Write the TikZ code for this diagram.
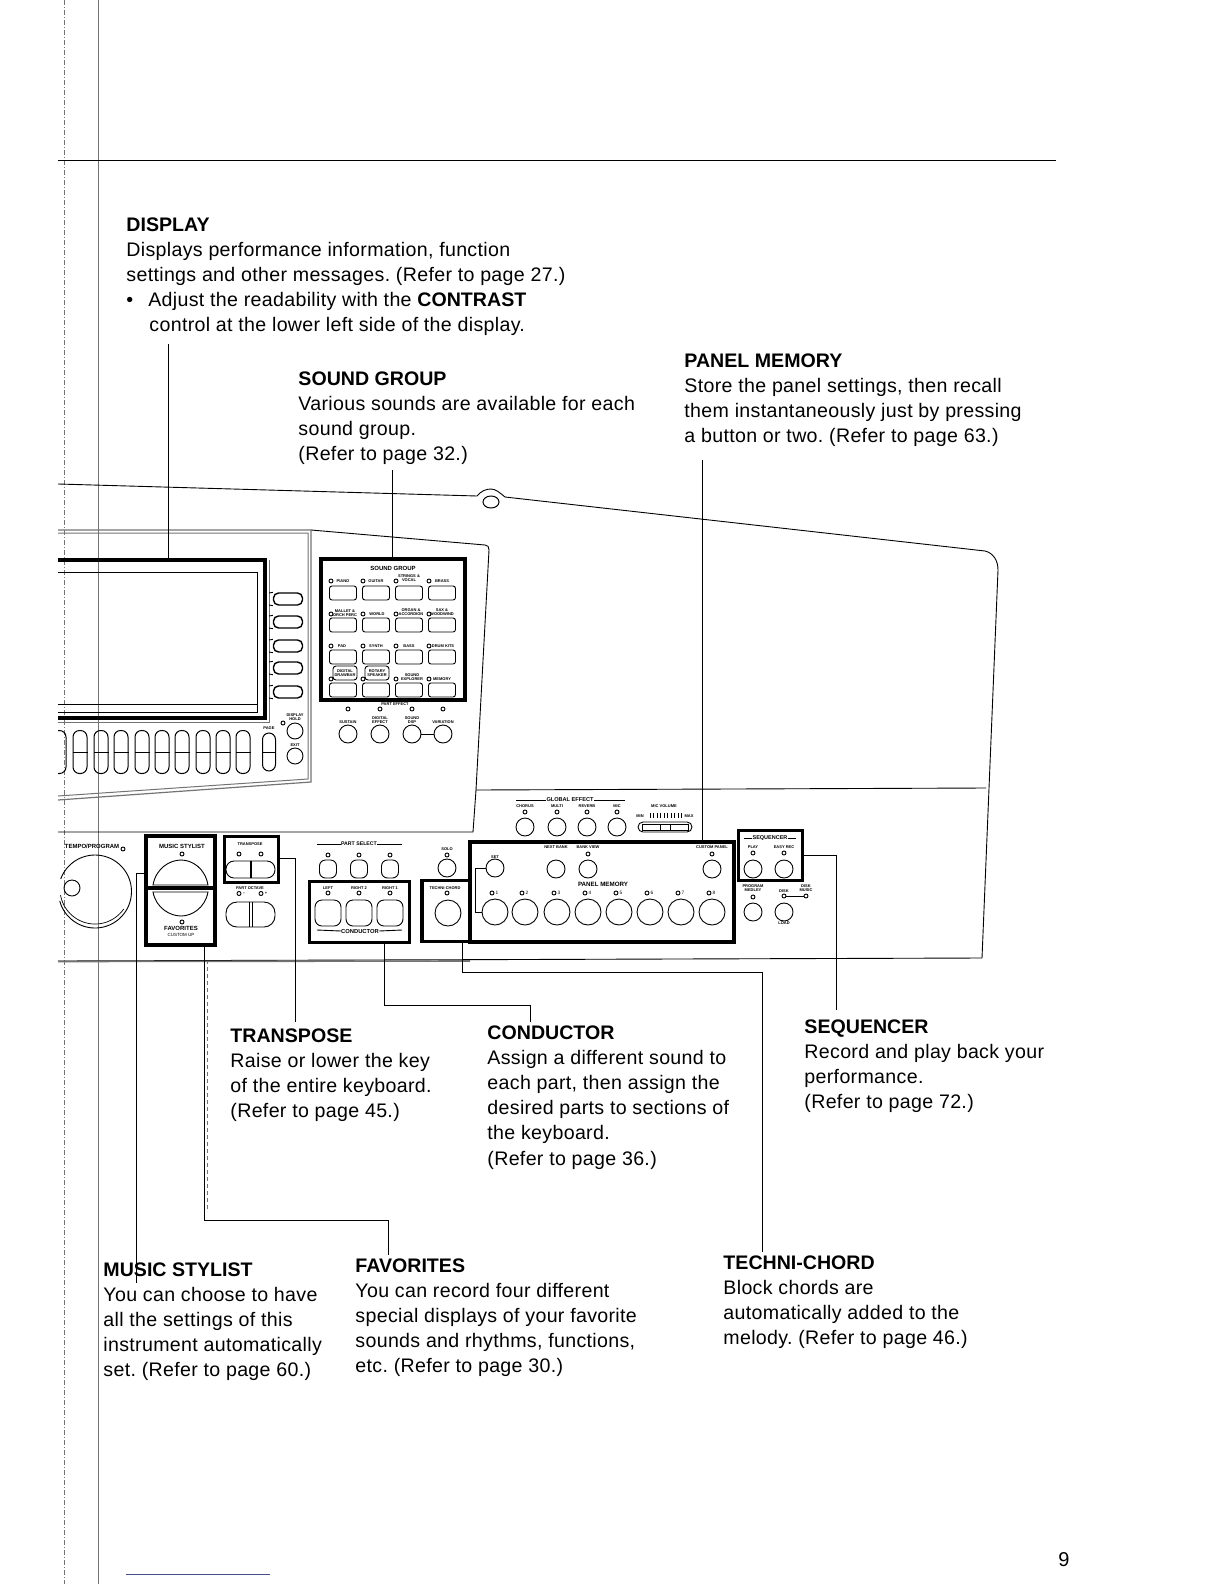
\documentclass[tikz,border=0pt]{standalone}
\usepackage{fontspec}
\setmainfont{Liberation Sans}
\newfontfamily\callfont[LetterSpace=1.65]{Liberation Sans}
\newcommand{\headtext}[1]{{\normalfont\bfseries #1}}
\usepackage{tikz}
\usetikzlibrary{positioning,calc}
\definecolor{frameGray}{gray}{0.45}
\definecolor{footBlue}{RGB}{70,80,140}
\tikzset{
  calltext/.style={anchor=north west, inner sep=0pt, align=left, font=\fontsize{19.6}{25.2}\selectfont\callfont\frenchspacing},
  hibox/.style={draw, line width=3.3pt, inner sep=0pt},
  leader/.style={line width=1pt},
  lbl/.style={inner sep=0pt, align=center, font=\fontsize{4}{4.4}\selectfont\bfseries},
  blbl/.style={inner sep=0pt, align=center, font=\fontsize{6}{6.4}\selectfont\bfseries},
  led/.style={draw, circle, inner sep=0pt, minimum size=4pt, line width=0.9pt},
  btn/.style={draw, circle, inner sep=0pt, minimum size=18pt, line width=0.9pt},
  bigbtn/.style={btn, minimum size=26pt},
  keybtn/.style={draw, rounded corners=2.5pt, inner sep=0pt, minimum width=27pt, minimum height=14pt, line width=0.9pt},
  squarebtn/.style={draw, rounded corners=6pt, inner sep=0pt, line width=0.9pt}
}
\begin{document}
\begin{tikzpicture}[x=1pt, y=-1pt, line width=0.9pt]
  \useasboundingbox (0,0) rectangle (1224,1584);
  % Page rules
  \draw[frameGray, line width=0.7pt] (98,0) -- (98,1584);
  \draw[frameGray, line width=0.5pt, dash pattern=on 5pt off 2pt on 1pt off 2pt] (64,0) -- (64,1584);
  \draw[line width=0.9pt] (58,160) -- (1056,160);
  \draw[footBlue, line width=0.8pt] (126,1574) -- (270,1574);
  \draw[frameGray, line width=0.5pt, dash pattern=on 4pt off 3pt] (207,960) -- (207,1212);
  \node[inner sep=0pt, font=\fontsize{20}{24}\selectfont] (pageNo) at (1064,1560) {9};

  % Callout texts
  \node[calltext] (dispText) at (126,217) {\headtext{DISPLAY}\\Displays performance information, function\\settings and other messages. (Refer to page 27.)\\\textbullet\hspace{15pt}Adjust the readability with the \headtext{CONTRAST}\\\hspace{23pt}control at the lower left side of the display.};
  \node[calltext] (soundText) at (298,371) {\headtext{SOUND GROUP}\\Various sounds are available for each\\sound group.\\(Refer to page 32.)};
  \node[calltext] (memText) at (684,353) {\headtext{PANEL MEMORY}\\Store the panel settings, then recall\\them instantaneously just by pressing\\a button or two. (Refer to page 63.)};
  \node[calltext] (transText) at (230,1028) {\headtext{TRANSPOSE}\\Raise or lower the key\\of the entire keyboard.\\(Refer to page 45.)};
  \node[calltext] (condText) at (487,1025) {\headtext{CONDUCTOR}\\Assign a different sound to\\each part, then assign the\\desired parts to sections of\\the keyboard.\\(Refer to page 36.)};
  \node[calltext] (seqText) at (804,1019) {\headtext{SEQUENCER}\\Record and play back your\\performance.\\(Refer to page 72.)};
  \node[calltext] (styleText) at (103,1262) {\headtext{MUSIC STYLIST}\\You can choose to have\\all the settings of this\\instrument automatically\\set. (Refer to page 60.)};
  \node[calltext] (favText) at (355,1258) {\headtext{FAVORITES}\\You can record four different\\special displays of your favorite\\sounds and rhythms, functions,\\etc. (Refer to page 30.)};
  \node[calltext] (techText) at (723,1255) {\headtext{TECHNI-CHORD}\\Block chords are\\automatically added to the\\melody. (Refer to page 46.)};

  % Panel outline
  \draw (58,484) -- (477,496) .. controls (481,491) and (486,489) .. (491,489) .. controls (496,489) and (500,493) .. (505,497) -- (985,551) .. controls (993,553) and (998,560) .. (998,570) -- (982,958);
  \draw[line width=1pt] (491,502) ellipse [x radius=8, y radius=6];
  \draw (58,961) -- (982,958);
  \draw[frameGray, line width=1.6pt] (58,961.5) -- (470,961);
  \draw (58,832) -- (473,832) -- (476,790) -- (986,788);
  \draw (476,790) -- (489,550) .. controls (489,547) and (488,545) .. (485,545) -- (311,530);
  % Display bezel
  \draw[frameGray, line width=1.2pt] (58,530) -- (311,530) -- (311,782) -- (58,800);
  \draw[frameGray, line width=1pt] (58,533) -- (308,533) -- (308,779) -- (58,796);
  \draw[frameGray, line width=1pt] (58,722) -- (269,722) -- (269,560);
  \draw (58,572) -- (257,572) -- (257,712) -- (58,712);
  \draw (58,704) -- (257,704);
  \draw[line width=3.3pt] (58,560) -- (265,560) -- (265,718) -- (58,718);
  \coordinate (dispTop) at (168,560);
  \foreach \i/\y in {a/599,b/622,c/646,d/668,e/692} {
    \node[draw, rounded corners=5pt, minimum width=29pt, minimum height=12pt, inner sep=0pt, line width=1.4pt] (side\i) at (288,\y) {};
    \draw (269,\y-6) -- (side\i.north west);
    \draw (269,\y+6) -- (side\i.south west);
  }
  % Function keys under the display
  \foreach \i/\x in {a/80,b/101,c/121,d/142,e/162,f/182,g/203,h/223,j/243} {
    \node[draw, rounded corners=6.5pt, minimum width=14pt, minimum height=43pt, inner sep=0pt, line width=1pt] (fkey\i) at (\x,752) {};
    \draw (fkey\i.west) -- (fkey\i.east);
  }
  \begin{scope}
    \clip (58,725) rectangle (75,780);
    \node[draw, rounded corners=6.5pt, minimum width=14pt, minimum height=43pt, inner sep=0pt, line width=1pt] (fkeyz) at (59,752) {};
  \end{scope}
  \node[draw, rounded corners=6.5pt, minimum width=13pt, minimum height=38pt, inner sep=0pt, line width=1pt] (pageKey) at (269,752) {};
  \draw (pageKey.west) -- (pageKey.east);
  \node[lbl] (pageLbl) at (269,728.5) {PAGE};
  \node[lbl] (holdLbl) at (295,717) {DISPLAY\\HOLD};
  \node[led] (holdLed) at (283,723) {};
  \node[btn, minimum size=16pt] (holdBtn) at (295,731) {};
  \node[lbl] (exitLbl) at (295,745) {EXIT};
  \node[btn, minimum size=16pt] (exitBtn) at (295,756) {};

  % Sound group
  \node[hibox, minimum width=144pt, minimum height=141pt] (soundBox) at (393,629.5) {};
  \node[blbl] (soundLbl) at (393,568) {SOUND GROUP};
  \foreach \r/\y in {a/593,b/625,c/657,d/690}
    \foreach \c/\x in {a/343,b/376,c/409,d/442}
      \node[keybtn] (key\r\c) at (\x,\y) {};
  \foreach \r/\y in {a/581,b/614,c/646,d/679}
    \foreach \c/\x in {a/331,b/363,c/396,d/429}
      \node[led] (keyled\r\c) at (\x,\y) {};
  \foreach \n/\x/\y/\t in {a/343/581/PIANO,b/376/581/GUITAR,c/409/578/{STRINGS \&\\VOCAL},d/442/581/BRASS,
    e/345/613/{MALLET \&\\ORCH PERC},f/377/614/WORLD,g/411/612/{ORGAN \&\\ACCORDION},h/442/612/{SAX \&\\WOODWIND},
    i/342/646/PAD,j/376/646/SYNTH,k/409/646/BASS,l/443/646/DRUM KITS,m/412/677/{SOUND\\EXPLORER},n/442/679/MEMORY}
    \node[lbl] (sgLbl\n) at (\x,\y) {\t};
  \node[draw, lbl, rounded corners=3pt, minimum width=24pt, minimum height=14pt] (drawbar) at (345,673) {DIGITAL\\DRAWBAR};
  \node[draw, lbl, rounded corners=3pt, minimum width=24pt, minimum height=14pt] (rotary) at (377,673) {ROTARY\\SPEAKER};

  % Part effect
  \node[lbl] (fxLbl) at (395,704) {PART EFFECT};
  \foreach \i/\x/\y/\t in {a/348/722/SUSTAIN,b/380/720/{DIGITAL\\EFFECT},c/412/720/{SOUND\\DSP},d/443/722/VARIATION} {
    \node[lbl] (fxTxt\i) at (\x,\y) {\t};
    \node[led] (fxLed\i) at (\x,709) {};
    \node[btn] (fx\i) at (\x,734) {};
  }
  \draw (fxc) -- (fxd);

  % Tempo dial
  \node[blbl] (tempoLbl) at (92,846) {TEMPO/PROGRAM};
  \node[led] (tempoLed) at (123,849) {};
  \node[btn, minimum size=16pt] (dialKnob) at (72,888) {};
  \begin{scope}
    \clip (58,840) rectangle (140,940);
    \draw[shift={(95,891.5)}, line width=0.9pt] plot[domain=-160:165, samples=80] (\x:36.5);
    \draw[shift={(95,889)}, line width=0.7pt] plot[domain=35:170, samples=50] (\x:35);
  \end{scope}

  % Music stylist and favorites
  \node[hibox, minimum width=69pt, minimum height=52pt] (styleBox) at (180.5,862) {};
  \node[hibox, minimum width=69pt, minimum height=57pt] (favBox) at (180.5,916.5) {};
  \node[blbl] (styleLbl) at (182,846) {MUSIC STYLIST};
  \node[led] (styleLed) at (182,854) {};
  \draw (153,885) .. controls (156,868) and (170,860) .. (181,860) .. controls (192,860) and (205,868) .. (208,885) -- cycle;
  \draw (153,892) .. controls (156,908) and (170,916) .. (181,916) .. controls (192,916) and (205,908) .. (208,892) -- cycle;
  \node[led] (favLed) at (182,922) {};
  \node[blbl] (favLbl) at (181,928.5) {FAVORITES};
  \node[lbl, font=\fontsize{4.5}{5}\selectfont] (customLbl) at (181,934.5) {CUSTOM UP};

  % Transpose and part octave
  \node[hibox, minimum width=54pt, minimum height=46pt] (transBox) at (251.5,859.5) {};
  \node[lbl] (transLbl) at (250,844) {TRANSPOSE};
  \foreach \i/\x in {a/239,b/261} \node[led] (transLed\i) at (\x,854) {};
  \node[draw, rounded corners=8pt, minimum width=49pt, minimum height=17pt, inner sep=0pt] (transKey) at (250.5,869.5) {};
  \draw[line width=2pt] (transKey.north) -- (transKey.south);
  \node[lbl] (octLbl) at (250,888) {PART OCTAVE};
  \node[led] (octLeda) at (239,893.5) {};
  \node[led] (octLedb) at (261,893.5) {};
  \node[lbl, right=1pt of octLeda] (octMinus) {--};
  \node[lbl, right=1pt of octLedb] (octPlus) {+};
  \node[draw, rounded corners=11pt, minimum width=49pt, minimum height=25pt, inner sep=0pt] (octKey) at (250.5,914.5) {};
  \draw (249.5,902) -- (249.5,927);
  \draw (252,902) -- (252,927);

  % Part select and conductor
  \node[blbl, font=\fontsize{5.2}{5.6}\selectfont\bfseries] (partLbl) at (359,844) {PART SELECT};
  \draw (317,844) -- (partLbl.west);
  \draw (partLbl.east) -- (402,844);
  \foreach \i/\x in {a/328,b/359,c/390} {
    \node[led] (partLed\i) at (\x,855) {};
    \node[squarebtn, minimum width=17pt, minimum height=18pt] (part\i) at (\x,869) {};
  }
  \node[hibox, minimum width=100pt, minimum height=61pt] (condBox) at (359.5,912) {};
  \foreach \i/\x/\t in {a/328/LEFT,b/359/RIGHT 2,c/390/RIGHT 1} {
    \node[lbl] (condTxt\i) at (\x,888) {\t};
    \node[led] (condLed\i) at (\x,893) {};
    \node[squarebtn, minimum width=26pt, minimum height=26pt, rounded corners=7pt] (cond\i) at (\x,913) {};
  }
  \node[blbl, font=\fontsize{5.8}{6}\selectfont\bfseries] (condLbl) at (360,931) {CONDUCTOR};
  \draw (317,930) -- (condLbl.west);
  \draw (condLbl.east) -- (402,930);

  % Solo and techni-chord
  \node[lbl] (soloLbl) at (447,849) {SOLO};
  \node[led] (soloLed) at (447,855) {};
  \node[btn] (soloBtn) at (447,868) {};
  \node[hibox, minimum width=48pt, minimum height=61pt] (techBox) at (446,911) {};
  \node[lbl] (techLbl) at (445,888) {TECHNI-CHORD};
  \node[led] (techLed) at (447,893) {};
  \node[bigbtn] (techBtn) at (448,913) {};

  % Global effect and mic volume
  \node[blbl, font=\fontsize{5.6}{6}\selectfont\bfseries] (globalLbl) at (570,800) {GLOBAL EFFECT};
  \draw (516,800) -- (globalLbl.west);
  \draw (globalLbl.east) -- (625,800);
  \foreach \i/\x/\t in {a/525/CHORUS,b/557/MULTI,c/587/REVERB,d/617/MIC} {
    \node[lbl] (globalTxt\i) at (\x,806) {\t};
    \node[led] (globalLed\i) at (\x,812) {};
    \node[btn] (global\i) at (\x,827) {};
  }
  \node[lbl] (micLbl) at (664,806) {MIC VOLUME};
  \node[lbl] (micMin) at (640,816) {MIN};
  \node[lbl] (micMax) at (689,816) {MAX};
  \foreach \x in {650,653.5,...,683} \draw[line width=0.6pt] (\x,813) -- (\x,818);
  \node[draw, rounded corners=5pt, minimum width=54pt, minimum height=10pt, inner sep=0pt] (micKey) at (665,827) {};
  \node[draw, minimum width=46pt, minimum height=6pt, inner sep=0pt] (micFader) at (665,827) {};
  \draw (660,824) -- (660,830);
  \draw (670,824) -- (670,830);

  % Panel memory
  \node[hibox, minimum width=264pt, minimum height=100pt] (memBox) at (602,892) {};
  \node[lbl] (setLbl) at (495,857) {SET};
  \node[btn] (setBtn) at (495,868) {};
  \node[lbl] (nextLbl) at (556,847) {NEXT BANK};
  \node[btn] (nextBtn) at (556,869) {};
  \node[lbl] (viewLbl) at (588,847) {BANK VIEW};
  \node[led] (viewLed) at (588,854) {};
  \node[btn] (viewBtn) at (588,869) {};
  \node[lbl] (customPLbl) at (712,847) {CUSTOM PANEL};
  \node[led] (customLed) at (712,854) {};
  \node[btn] (customBtn) at (712,869) {};
  \node[blbl, font=\fontsize{6.2}{6.6}\selectfont\bfseries] (memLbl) at (603,884) {PANEL MEMORY};
  \foreach \n/\x in {1/495,2/525,3/557,4/588,5/619,6/650,7/681,8/712} {
    \node[led] (memLed\n) at (\x-3,893) {};
    \node[lbl, font=\fontsize{4.8}{5}\selectfont] (memTxt\n) at (\x+2,893) {\n};
    \node[bigbtn] (mem\n) at (\x,912) {};
  }
  \draw (setBtn.west) -- (475,868) -- (475,912) -- (mem1.west);

  % Sequencer
  \node[hibox, minimum width=64pt, minimum height=50pt] (seqBox) at (770.5,855.5) {};
  \node[blbl, font=\fontsize{5.5}{6}\selectfont\bfseries] (seqLbl) at (770,838) {SEQUENCER};
  \draw (744,838) -- (seqLbl.west);
  \draw (seqLbl.east) -- (796,838);
  \foreach \i/\x/\t in {a/753/PLAY,b/784/EASY REC} {
    \node[lbl] (seqTxt\i) at (\x,847) {\t};
    \node[led] (seqLed\i) at (\x,853) {};
    \node[btn] (seq\i) at (\x,869) {};
  }
  \node[lbl] (progLbl) at (753,888) {PROGRAM\\MEDLEY};
  \node[led] (progLed) at (753,897) {};
  \node[btn] (progBtn) at (753,912) {};
  \node[lbl] (diskLbl) at (784,891) {DISK};
  \node[lbl] (musicLbl) at (806,888) {DISK\\MUSIC};
  \node[led] (diskLed) at (784,896) {};
  \node[led] (musicLed) at (806,896) {};
  \draw (diskLed) -- (musicLed);
  \node[btn] (diskBtn) at (784,912) {};
  \node[lbl] (loadLbl) at (784,923) {LOAD};

  % Leader lines
  \coordinate (dispEnd) at (168,344);
  \coordinate (soundEnd) at (392,470);
  \coordinate (memEnd) at (702,460);
  \coordinate (seqEnd) at (836,1010);
  \coordinate (transEnd) at (295,1022);
  \coordinate (condEnd) at (530,1022);
  \coordinate (techEnd) at (762,1252);
  \coordinate (styleEnd) at (136,1283);
  \coordinate (favEnd) at (388,1255);
  \draw[leader] (dispEnd) -- (dispTop);
  \draw[leader] (soundEnd) -- (soundEnd |- soundBox.north);
  \draw[leader] (memEnd) -- (memEnd |- memBox.north);
  \draw[leader] (seqBox.east |- 0,855) -- (836,855) -- (seqEnd);
  \draw[leader] (transBox.east |- 0,858) -- (295,858) -- (transEnd);
  \draw[leader] (384,944) -- (384,1005) -- (530,1005) -- (condEnd);
  \draw[leader] (462,943) -- (462,972) -- (762,972) -- (techEnd);
  \draw[leader] (styleBox.west |- 0,873) -- (136,873) -- (styleEnd);
  \draw[leader] (204,945) -- (204,1220) -- (388,1220) -- (favEnd);
\end{tikzpicture}
\end{document}
